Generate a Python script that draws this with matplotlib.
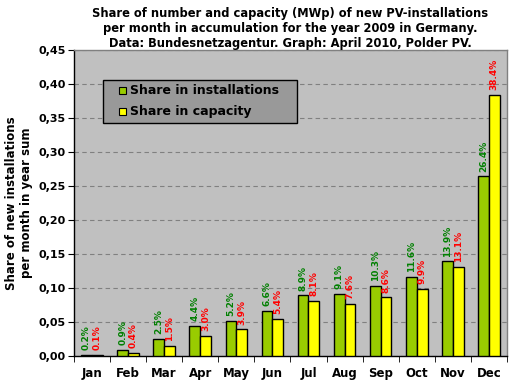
import matplotlib
matplotlib.use('Agg')
import matplotlib.pyplot as plt
import matplotlib.patches as mpatches
import numpy as np

# ─── data: share of yearly total per month, 2009 ───
months = ['Jan', 'Feb', 'Mar', 'Apr', 'May', 'Jun',
          'Jul', 'Aug', 'Sep', 'Oct', 'Nov', 'Dec']
share_install = [0.002, 0.009, 0.025, 0.044, 0.052, 0.066,
                 0.089, 0.091, 0.103, 0.116, 0.139, 0.264]
share_capacity = [0.001, 0.004, 0.015, 0.030, 0.039, 0.054,
                  0.081, 0.076, 0.086, 0.099, 0.131, 0.384]
yticks = [0.0, 0.05, 0.10, 0.15, 0.20, 0.25, 0.30, 0.35, 0.40, 0.45]
series_labels = ['Share in installations', 'Share in capacity']

C_GREEN = '#99CC00'
C_YELLOW = '#FFFF00'
C_PLOT = '#C0C0C0'

fig = plt.figure(figsize=(5.21, 3.89), dpi=100)
fig.patch.set_facecolor('white')
ax = fig.add_axes([0.142, 0.085, 0.831, 0.787])
ax.set_facecolor(C_PLOT)

x = np.arange(len(months))
w = 0.3
ax.bar(x - w / 2, share_install, width=w, color=C_GREEN,
       edgecolor='black', linewidth=1.0, zorder=3)
ax.bar(x + w / 2, share_capacity, width=w, color=C_YELLOW,
       edgecolor='black', linewidth=1.0, zorder=3)

for i in range(len(months)):
    ax.text(x[i] - w / 2, share_install[i] + 0.007, f'{share_install[i]*100:.1f}%',
            rotation=90, ha='center', va='bottom', fontsize=6.5,
            fontweight='bold', color='#008000', zorder=4)
    ax.text(x[i] + w / 2, share_capacity[i] + 0.007, f'{share_capacity[i]*100:.1f}%',
            rotation=90, ha='center', va='bottom', fontsize=6.5,
            fontweight='bold', color='#FF0000', zorder=4)

ax.set_ylim(0, 0.45)
ax.set_xlim(-0.5, len(months) - 0.5)
ax.set_yticks(yticks)
ax.set_yticklabels([f'{t:.2f}'.replace('.', ',') for t in yticks],
                   fontsize=8, fontweight='bold')
ax.yaxis.grid(True, color='#808080', linestyle=(0, (4, 3)), linewidth=0.8, zorder=0)
ax.set_axisbelow(True)

# month labels centred, ticks on boundaries
ax.set_xticks(x)
ax.set_xticklabels(months, fontsize=8.5, fontweight='bold')
ax.tick_params(axis='x', length=0, pad=8)
ax.set_xticks(np.arange(-0.5, len(months)), minor=True)
ax.tick_params(axis='x', which='minor', length=4, direction='out')
ax.tick_params(axis='y', length=4, direction='out', pad=2)

for s in ['left', 'bottom']:
    ax.spines[s].set_color('black')
    ax.spines[s].set_linewidth(1.0)
for s in ['top', 'right']:
    ax.spines[s].set_color('#808080')
    ax.spines[s].set_linewidth(1.0)

ax.set_ylabel('Share of new installations\nper month in year sum',
              fontsize=8.5, fontweight='bold')
ax.yaxis.set_label_coords(-0.095, 0.5)

ax.set_title('Share of number and capacity (MWp) of new PV-installations\n'
             'per month in accumulation for the year 2009 in Germany.\n'
             'Data: Bundesnetzagentur. Graph: April 2010, Polder PV.',
             fontsize=8.3, fontweight='bold', linespacing=1.2, pad=2)

# ─── legend box, drawn by hand ───
ax.add_patch(mpatches.Rectangle((0.067, 0.761), 0.448, 0.141, transform=ax.transAxes,
                                facecolor='#999999', edgecolor='black',
                                linewidth=1.0, zorder=5))
for ypos, col, lab in zip([0.867, 0.798], [C_GREEN, C_YELLOW], series_labels):
    ax.add_patch(mpatches.Rectangle((0.104, ypos - 0.011), 0.016, 0.022,
                                    transform=ax.transAxes, facecolor=col,
                                    edgecolor='black', linewidth=0.8, zorder=6))
    ax.text(0.130, ypos, lab, transform=ax.transAxes, fontsize=9,
            fontweight='bold', va='center', ha='left', zorder=6)

fig.savefig('out.png', dpi=100, facecolor=fig.get_facecolor())
